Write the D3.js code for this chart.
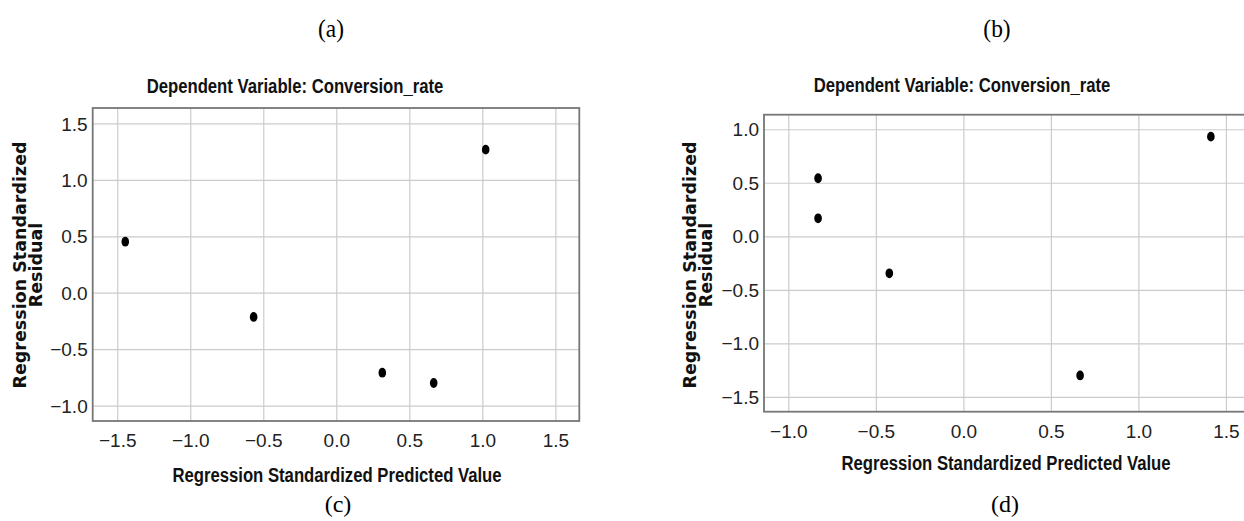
<!DOCTYPE html>
<html>
<head>
<meta charset="utf-8">
<script src="https://cdn.jsdelivr.net/npm/d3@7"></script>
<style>
  html, body { margin: 0; padding: 0; background: #fff; }
  svg { display: block; }
</style>
</head>
<body>
<svg id="fig" width="1244" height="521"></svg>
<script>
// Residual plots: standardized predicted value vs standardized residual
const topLabels = ["(a)", "(b)"];
const panelLabels = ["(c)", "(d)"];
const chartTitle = "Dependent Variable: Conversion_rate";
const xAxisTitle = "Regression Standardized Predicted Value";
const yAxisTitleLines = ["Regression Standardized", "Residual"];

// Panel (c)
const predictedC = [-1.445, -0.566, 0.315, 0.667, 1.023];
const residualC  = [0.452, -0.215, -0.709, -0.800, 1.268];
const xTicksC = [-1.5, -1.0, -0.5, 0.0, 0.5, 1.0, 1.5];
const yTicksC = [-1.0, -0.5, 0.0, 0.5, 1.0, 1.5];

// Panel (d)
const predictedD = [-0.830, -0.830, -0.423, 0.667, 1.414];
const residualD  = [0.542, 0.168, -0.346, -1.300, 0.931];
const xTicksD = [-1.0, -0.5, 0.0, 0.5, 1.0, 1.5];
const yTicksD = [-1.5, -1.0, -0.5, 0.0, 0.5, 1.0];

const svg = d3.select("#fig");
const fmt = d3.format(".1f");

const SANS = "'Liberation Sans', Arial, sans-serif";
const YTITLE_FONT = "'DejaVu Sans', Verdana, sans-serif";
const SERIF = "'Liberation Serif', 'Times New Roman', serif";
const CONDENSE = 0.835; // horizontal squeeze for the narrow bold titles

const panels = [
  {
    xs: predictedC, ys: residualC, xTicks: xTicksC, yTicks: yTicksC,
    xDomain: [-1.668, 1.664], yDomain: [-1.137, 1.637],
    left: 92.7, right: 579.3, top: 108, bottom: 421,
    titleX: 295, titleY: 93,
    yTitleX: 26, yTitleY: 265,
    xTitleX: 337, xTitleY: 482,
    labelX: 338, topLabelX: 331
  },
  {
    xs: predictedD, ys: residualD, xTicks: xTicksD, yTicks: yTicksD,
    xDomain: [-1.139, 1.609], yDomain: [-1.639, 1.136],
    left: 764, right: 1245, top: 114.7, bottom: 411.7,
    titleX: 962, titleY: 92,
    yTitleX: 696, yTitleY: 265,
    xTitleX: 1006, xTitleY: 470,
    labelX: 1005, topLabelX: 997
  }
];

panels.forEach((p, i) => {
  const x = d3.scaleLinear().domain(p.xDomain).range([p.left, p.right]);
  const y = d3.scaleLinear().domain(p.yDomain).range([p.bottom, p.top]);
  const g = svg.append("g");

  // grid lines
  const gx = g.append("g")
    .attr("transform", `translate(0,${p.bottom})`)
    .call(d3.axisBottom(x).tickValues(p.xTicks).tickSize(-(p.bottom - p.top)).tickFormat(""));
  const gy = g.append("g")
    .attr("transform", `translate(${p.left},0)`)
    .call(d3.axisLeft(y).tickValues(p.yTicks).tickSize(-(p.right - p.left)).tickFormat(""));
  [gx, gy].forEach(a => {
    a.select(".domain").remove();
    a.selectAll(".tick line").attr("stroke", "#cbcbcb").attr("stroke-width", 1.2);
  });

  // tick labels
  const xl = g.append("g")
    .attr("transform", `translate(0,${p.bottom})`)
    .call(d3.axisBottom(x).tickValues(p.xTicks).tickSize(0).tickPadding(0).tickFormat(fmt));
  xl.select(".domain").remove();
  xl.selectAll("text")
    .attr("y", 26).attr("dy", 0)
    .attr("font-family", SANS).attr("font-size", 19).attr("fill", "#222");

  const yl = g.append("g")
    .attr("transform", `translate(${p.left},0)`)
    .call(d3.axisLeft(y).tickValues(p.yTicks).tickSize(0).tickPadding(0).tickFormat(fmt));
  yl.select(".domain").remove();
  yl.selectAll("text")
    .attr("x", -5).attr("dy", "0.35em")
    .attr("font-family", SANS).attr("font-size", 19).attr("fill", "#222");

  // plot frame
  g.append("rect")
    .attr("x", p.left).attr("y", p.top)
    .attr("width", p.right - p.left).attr("height", p.bottom - p.top)
    .attr("fill", "none").attr("stroke", "#777").attr("stroke-width", 1.8);

  // points
  g.append("g").selectAll("ellipse")
    .data(d3.zip(p.xs, p.ys))
    .join("ellipse")
    .attr("cx", d => x(d[0]))
    .attr("cy", d => y(d[1]))
    .attr("rx", 3.8).attr("ry", 4.9)
    .attr("fill", "#000");

  // chart title
  g.append("text")
    .attr("transform", `translate(${p.titleX},${p.titleY}) scale(${CONDENSE},1)`)
    .attr("text-anchor", "middle")
    .attr("font-family", SANS).attr("font-weight", "bold").attr("font-size", 20)
    .attr("fill", "#111")
    .text(chartTitle);

  // x-axis title
  g.append("text")
    .attr("transform", `translate(${p.xTitleX},${p.xTitleY}) scale(${CONDENSE},1)`)
    .attr("text-anchor", "middle")
    .attr("font-family", SANS).attr("font-weight", "bold").attr("font-size", 20)
    .attr("fill", "#111")
    .text(xAxisTitle);

  // y-axis title (two lines, rotated)
  const yt = g.append("text")
    .attr("transform", `translate(${p.yTitleX},${p.yTitleY}) rotate(-90)`)
    .attr("text-anchor", "middle")
    .attr("font-family", YTITLE_FONT).attr("font-weight", "bold").attr("font-size", 17.5)
    .attr("fill", "#111");
  yt.selectAll("tspan")
    .data(yAxisTitleLines)
    .join("tspan")
    .attr("x", 0)
    .attr("dy", (d, k) => k === 0 ? 0 : 15.5)
    .text(d => d);

  // panel captions
  svg.append("text")
    .attr("transform", `translate(${p.topLabelX},37) scale(0.9,1)`)
    .attr("text-anchor", "middle")
    .attr("font-family", SERIF).attr("font-size", 26)
    .text(topLabels[i]);
  svg.append("text")
    .attr("x", p.labelX).attr("y", 512)
    .attr("text-anchor", "middle")
    .attr("font-family", SERIF).attr("font-size", 24)
    .text(panelLabels[i]);
});
</script>
</body>
</html>
